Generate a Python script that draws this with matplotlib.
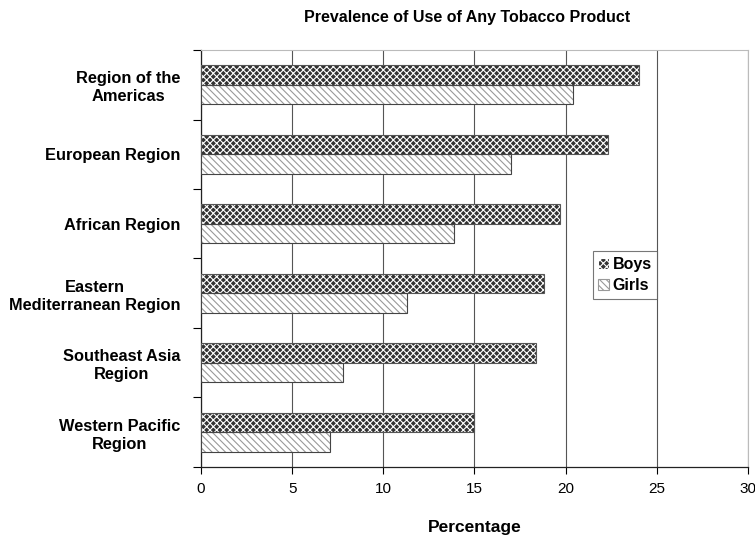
import numpy as np
import matplotlib.pyplot as plt
from matplotlib.patches import Patch

plt.rcParams['font.family'] = ['Liberation Sans', 'DejaVu Sans']
plt.rcParams['hatch.linewidth'] = 0.8

regions = ['Region of the\nAmericas', 'European Region', 'African Region',
           'Eastern\nMediterranean Region', 'Southeast Asia\nRegion',
           'Western Pacific\nRegion']
boys = [24.0, 22.3, 19.7, 18.8, 18.4, 15.0]
girls = [20.4, 17.0, 13.9, 11.3, 7.8, 7.1]

fig = plt.figure(figsize=(7.55, 5.4), dpi=100)
ax = fig.add_axes([0.2662, 0.1352, 0.7245, 0.7722])

y = np.arange(len(regions))
h = 0.28

boys_style = dict(facecolor='#333333', edgecolor='white', hatch='xxxxx')
girls_style = dict(facecolor='white', edgecolor='#999999', hatch='\\\\\\\\\\')

# boys: dark checkerboard-ish pattern
ax.barh(y - h / 2, boys, height=h, linewidth=0, zorder=3, **boys_style)
ax.barh(y - h / 2, boys, height=h, fill=False, edgecolor='#555555',
        linewidth=0.8, zorder=4)
# girls: light diagonal stripes
ax.barh(y + h / 2, girls, height=h, linewidth=0, zorder=3, **girls_style)
ax.barh(y + h / 2, girls, height=h, fill=False, edgecolor='#444444',
        linewidth=0.8, zorder=4)

ax.set_xlim(0, 30)
ax.set_ylim(len(regions) - 0.5, -0.5)
ax.set_xticks(range(0, 31, 5))
ax.set_yticks(y)
ax.set_yticklabels(regions, fontsize=11.8, fontweight='bold', ha='right',
                   multialignment='center', linespacing=1.25)
ax.set_yticks(np.arange(-0.5, len(regions)), minor=True)
ax.tick_params(axis='y', which='major', length=0, pad=15)
ax.tick_params(axis='y', which='minor', length=6, width=0.8, direction='out')
ax.tick_params(axis='x', length=5, width=0.8, labelsize=11, pad=6)

ax.grid(axis='x', color='#555555', linewidth=0.8, zorder=0)
for s in ['top', 'right']:
    ax.spines[s].set_color('#bbbbbb')
for s in ['left', 'bottom']:
    ax.spines[s].set_color('#222222')
    ax.spines[s].set_linewidth(0.9)

ax.set_xlabel('Percentage', fontsize=12.5, fontweight='bold', labelpad=17)
fig.text(0.619, 0.982, 'Prevalence of Use of Any Tobacco Product',
         ha='center', va='top', fontsize=11.5, fontweight='bold')

handles = [Patch(linewidth=0.8, **boys_style), Patch(linewidth=0.8, **girls_style)]
leg = ax.legend(handles, ['Boys', 'Girls'], loc='center left',
                bbox_to_anchor=(0.716, 0.46), fontsize=11.5, frameon=True,
                fancybox=False, edgecolor='#555555', handlelength=0.7,
                handleheight=0.7, handletextpad=0.2, borderpad=0.35,
                labelspacing=0.4, borderaxespad=0)
for t in leg.get_texts():
    t.set_fontweight('bold')
leg.get_frame().set_linewidth(0.8)

fig.savefig('out.png', dpi=100)
